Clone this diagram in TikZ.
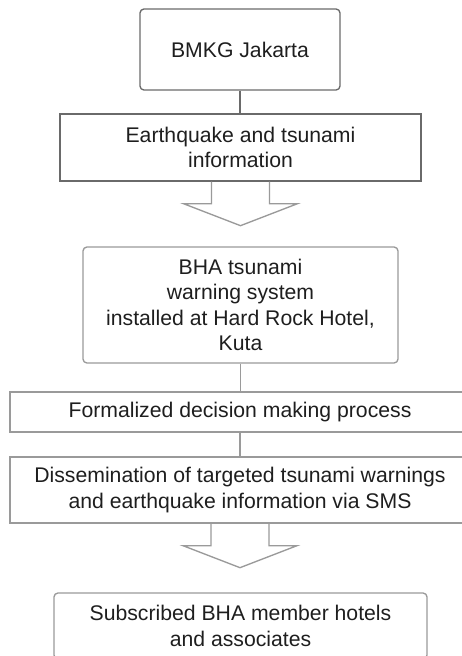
\documentclass[tikz,border=0pt]{standalone}
\usepackage{fontspec}
\setmainfont{Liberation Sans}
\definecolor{darkline}{HTML}{6A6A6A}
\definecolor{paleline}{HTML}{9A9A9A}
\definecolor{txtgray}{HTML}{1E1E1E}
\tikzset{
  stepbox/.style={draw=paleline, line width=1.35pt, align=center, inner sep=0pt,
    text=txtgray, font=\fontsize{21.2}{25.5}\selectfont},
  roundbox/.style={stepbox, rounded corners=4pt},
  link/.style={draw=paleline, line width=1.35pt},
  hollowarrow/.style={draw=paleline, line width=1.35pt, line join=miter}
}
\begin{document}
\begin{tikzpicture}[x=1pt, y=-1pt]
      \useasboundingbox (0,0) rectangle (462,656);
      \clip (0,0) rectangle (462,656);
      %
      \node[roundbox, draw=darkline, minimum width=200pt, minimum height=81pt] (bmkg) at (240,49.5) {BMKG Jakarta};
      \node[stepbox, draw=darkline, minimum width=361pt, minimum height=67pt] (info) at (240.5,147.5)
        {Earthquake and tsunami\\information};
      %
      \node[roundbox, minimum width=315pt, minimum height=116pt] (bha) at (240.5,305)
        {BHA tsunami\\warning system\\installed at Hard Rock Hotel,\\Kuta};
      \node[stepbox, minimum width=460pt, minimum height=40pt] (decide) at (240,412)
        {Formalized decision making process};
      \node[stepbox, minimum width=460pt, minimum height=66pt] (sms) at (240,490)
        {Dissemination of targeted tsunami warnings\\and earthquake information via SMS};
      %
      \node[roundbox, minimum width=373pt, minimum height=66pt] (hotels) at (240.5,626)
        {Subscribed BHA member hotels\\and associates};
      %
      \draw[link, draw=darkline] (bmkg.south) -- (bmkg.south |- info.north);   % plain links
      \draw[link] (bha.south) -- (bha.south |- decide.north);
      \draw[link] (decide.south) -- (decide.south |- sms.north);
      %
      \draw[hollowarrow] (info.south) ++(-29,0) -- ++(0,22) -- ++(-28,0) -- ++(57,22)
        -- ++(57,-22) -- ++(-28,0) -- ++(0,-22);                            % block arrows
      \draw[hollowarrow] (sms.south) ++(-29,0) -- ++(0,22) -- ++(-28,0) -- ++(57,22)
        -- ++(57,-22) -- ++(-28,0) -- ++(0,-22);
      %
\end{tikzpicture}
\end{document}
